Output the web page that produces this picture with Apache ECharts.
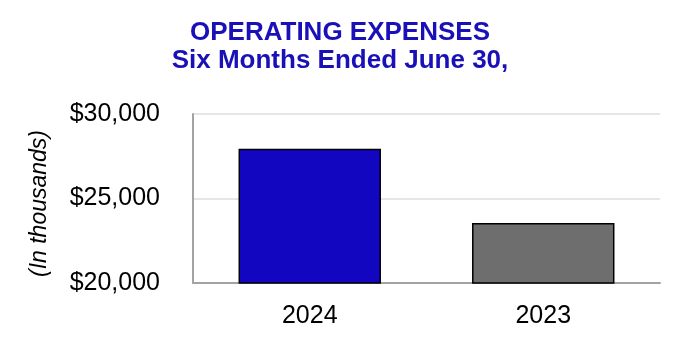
<!DOCTYPE html>
<html>
<head>
<meta charset="utf-8">
<script src="https://cdn.jsdelivr.net/npm/echarts@6/dist/echarts.min.js"></script>
<style>html,body{margin:0;padding:0;background:#fff}#c{width:680px;height:350px}</style>
</head>
<body>
<div id="c"></div>
<script>
var titleLines = ['OPERATING EXPENSES', 'Six Months Ended June 30,'];
var yAxisName = '(In thousands)';
var categories = ['2024', '2023'];
var values = [27950, 23550];
var barColors = ['#1306c0', '#6e6e6e'];
var yMin = 20000, yMax = 30000, yStep = 5000;

var chart = echarts.init(document.getElementById('c'));
chart.setOption({
  animation: false,
  backgroundColor: '#ffffff',
  title: {
    text: titleLines.join('\n'),
    left: 'center',
    top: 14,
    textStyle: {
      fontFamily: 'Liberation Sans, Arial, sans-serif',
      fontWeight: 'bold',
      fontSize: 26,
      lineHeight: 28,
      color: '#1a10b8'
    }
  },
  grid: { left: 193, right: 20, top: 114, bottom: 67 },
  xAxis: {
    type: 'category',
    data: categories,
    axisLine: { lineStyle: { color: '#a3a3a3', width: 2 } },
    axisTick: { show: false },
    axisLabel: {
      margin: 21,
      fontFamily: 'Liberation Sans, Arial, sans-serif',
      fontSize: 25,
      color: '#000'
    }
  },
  yAxis: {
    type: 'value',
    min: yMin, max: yMax, interval: yStep,
    name: yAxisName,
    nameLocation: 'middle',
    nameGap: 142,
    nameRotate: 90,
    nameTextStyle: {
      fontFamily: 'Liberation Sans, Arial, sans-serif',
      fontStyle: 'italic',
      fontSize: 23,
      color: '#000',
      padding: [0, 10, 0, 0]
    },
    axisLine: { show: true, lineStyle: { color: '#a3a3a3', width: 2 } },
    axisTick: { show: false },
    splitLine: { lineStyle: { color: '#e6e6e6', width: 2 } },
    axisLabel: {
      margin: 33,
      fontFamily: 'Liberation Sans, Arial, sans-serif',
      fontSize: 25,
      color: '#000',
      padding: [6, 0, 0, 0],
      formatter: function (v) { return '$' + v.toLocaleString('en-US'); }
    }
  },
  series: [{
    type: 'bar',
    barWidth: '61%',
    data: values.map(function (v, i) {
      return { value: v, itemStyle: { color: barColors[i], borderColor: '#000', borderWidth: 1.5 } };
    })
  }]
});
</script>
</body>
</html>
